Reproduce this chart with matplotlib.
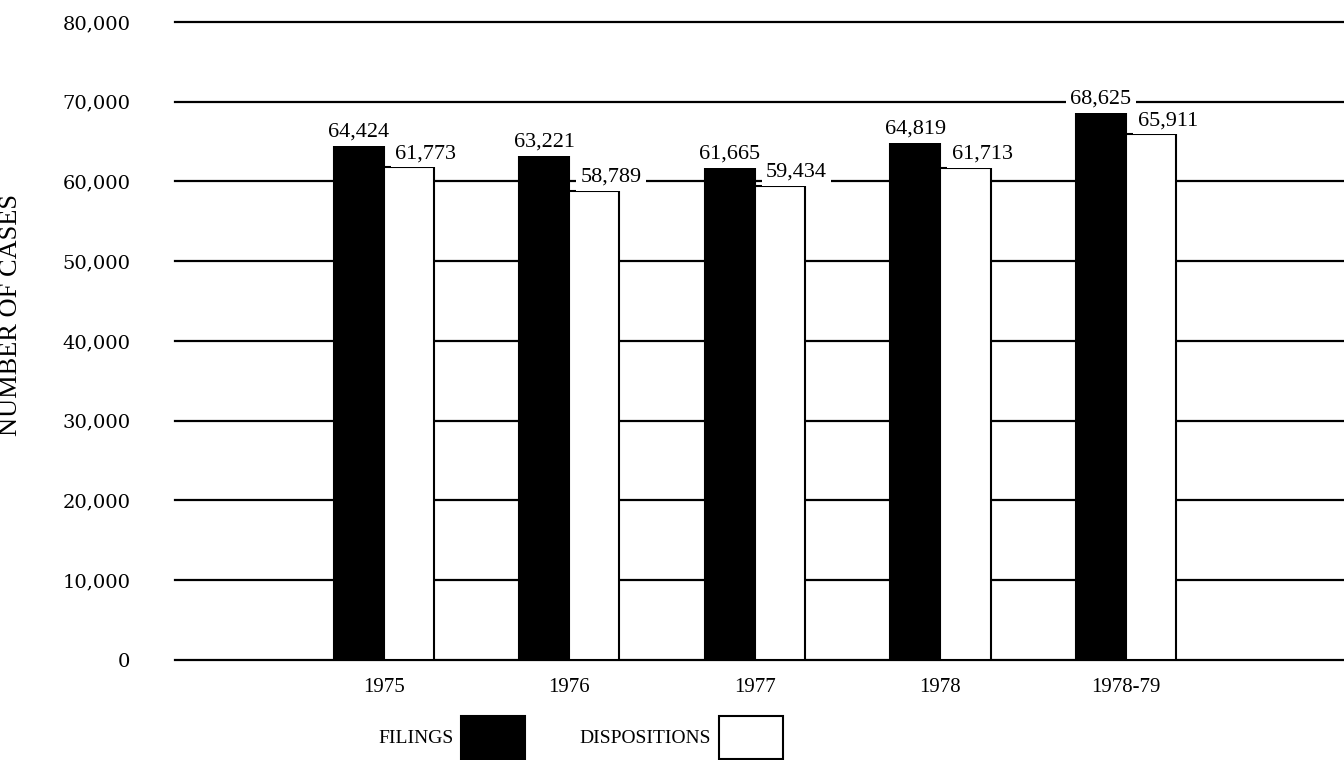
import matplotlib
matplotlib.use("Agg")
import matplotlib.pyplot as plt
from matplotlib.patches import Patch
import numpy as np

years = ["1975", "1976", "1977", "1978", "1978-79"]
filings = [64424, 63221, 61665, 64819, 68625]
dispositions = [61773, 58789, 59434, 61713, 65911]
yticks = [0, 10000, 20000, 30000, 40000, 50000, 60000, 70000, 80000]

SERIF = "Liberation Serif"

fig = plt.figure(figsize=(13.44, 7.6), dpi=100)
ax = fig.add_axes([0.130, 0.1316, 0.870, 0.8395])

x = np.arange(len(years))
w = 0.27
ax.bar(x - w / 2, filings, width=w, color="black", edgecolor="black",
       linewidth=1.5, zorder=2)
ax.bar(x + w / 2, dispositions, width=w, color="white", edgecolor="black",
       linewidth=1.5, zorder=2)

# etiquetas de valores con fondo blanco que corta las lineas
box = dict(facecolor="white", edgecolor="none", pad=3)
for xi, v in zip(x - w / 2, filings):
    ax.annotate(f"{v:,}", (xi, v), xytext=(0, 3), textcoords="offset points",
                ha="center", va="bottom", fontsize=16, family=SERIF,
                bbox=box, zorder=3)
for xi, v in zip(x + w / 2, dispositions):
    ax.annotate(f"{v:,}", (xi + 0.09, v), xytext=(0, 3), textcoords="offset points",
                ha="center", va="bottom", fontsize=16, family=SERIF,
                bbox=box, zorder=3)

ax.set_xlim(-1.127, 5.175)
ax.set_ylim(0, 80000)
ax.set_yticks(yticks)
ax.set_yticklabels([f"{t:,}" for t in yticks], family="DejaVu Serif", fontsize=14)
ax.set_xticks(x)
ax.set_xticklabels(years, family=SERIF, fontsize=15)
ax.tick_params(axis="y", length=0, pad=32)
ax.tick_params(axis="x", length=0, pad=13)
ax.yaxis.grid(True, color="black", linewidth=1.6)
for gl in ax.get_ygridlines():
    gl.set_clip_on(False)
ax.set_axisbelow(True)
for s in ax.spines.values():
    s.set_visible(False)

ax.set_ylabel("NUMBER OF CASES", family=SERIF, fontsize=19)
ax.yaxis.set_label_coords(-0.131, 0.54)

handles = [Patch(facecolor="black", edgecolor="black", linewidth=1.5, label="FILINGS"),
           Patch(facecolor="white", edgecolor="black", linewidth=1.5, label="DISPOSITIONS")]
fig.legend(handles=handles, loc="center", bbox_to_anchor=(0.432, 0.03), ncol=2,
           frameon=False, markerfirst=False, prop={"family": SERIF, "size": 14},
           handlelength=3.3, handleheight=3.0, handletextpad=0.4, columnspacing=2.8)

fig.savefig("out.png", dpi=100, facecolor="white")
